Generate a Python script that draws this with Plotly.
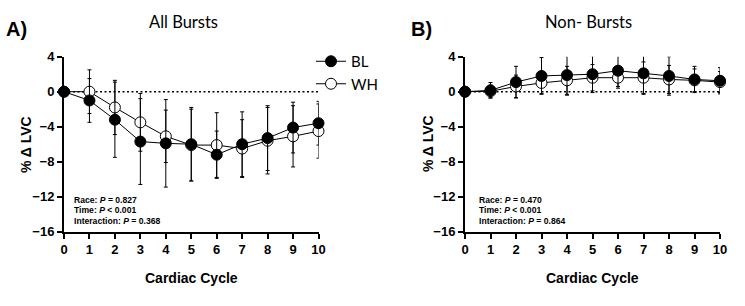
import plotly.graph_objects as go

cycles = [0, 1, 2, 3, 4, 5, 6, 7, 8, 9, 10]

# Panel A: All Bursts
a_bl = [0, -1.0, -3.2, -5.7, -5.9, -6.0, -7.2, -6.0, -5.3, -4.1, -3.6]
a_bl_err = [0, 2.5, 4.3, 4.9, 5.0, 4.2, 2.7, 3.7, 3.7, 2.9, 2.5]
a_wh = [0, 0.0, -1.8, -3.5, -5.1, -6.1, -6.1, -6.5, -5.6, -5.1, -4.5]
a_wh_err = [0, 2.5, 3.1, 3.3, 3.0, 4.1, 3.7, 3.3, 3.8, 3.5, 3.1]

# Panel B: Non- Bursts
b_bl = [0, 0.15, 1.1, 1.8, 1.9, 2.0, 2.4, 2.1, 1.8, 1.4, 1.25]
b_bl_err = [0, 0.9, 1.8, 2.1, 2.3, 2.1, 2.0, 2.4, 2.2, 1.5, 1.5]
b_wh = [0, 0.05, 0.6, 1.0, 1.3, 1.6, 1.6, 1.6, 1.4, 1.3, 1.1]
b_wh_err = [0, 0.7, 1.3, 1.2, 1.6, 1.5, 1.0, 1.8, 1.6, 1.3, 1.2]

y_ticks = [4, 0, -4, -8, -12, -16]
panel_titles = ["All Bursts", "Non- Bursts"]
panel_letters = ["A)", "B)"]
stats_a = ["Race: <i>P</i> = 0.827", "Time: <i>P</i> < 0.001", "Interaction: <i>P</i> = 0.368"]
stats_b = ["Race: <i>P</i> = 0.470", "Time: <i>P</i> < 0.001", "Interaction: <i>P</i> = 0.864"]

FONT = "Liberation Sans, Arial"
TFONT = "Lato, Carlito, Open Sans"

fig = go.Figure()

def add_panel(xa, ya, bl, bl_err, wh, wh_err, show):
    # dotted zero line
    fig.add_trace(go.Scatter(x=[cycles[0], cycles[-1]], y=[0, 0], mode="lines",
                             line=dict(color="black", width=1.5, dash="2px,2.5px"),
                             xaxis=xa, yaxis=ya, showlegend=False, hoverinfo="skip"))
    fig.add_trace(go.Scatter(x=cycles, y=wh, mode="lines+markers", name="WH",
                             line=dict(color="black", width=1),
                             marker=dict(symbol="circle", size=11, color="white",
                                         line=dict(color="black", width=1)),
                             error_y=dict(type="data", array=wh_err, color="black",
                                          thickness=1, width=2),
                             cliponaxis=False, xaxis=xa, yaxis=ya,
                             showlegend=show, legendrank=2))
    fig.add_trace(go.Scatter(x=cycles, y=bl, mode="lines+markers", name="BL",
                             line=dict(color="black", width=1),
                             marker=dict(symbol="circle", size=11, color="black",
                                         line=dict(color="black", width=1)),
                             error_y=dict(type="data", array=bl_err, color="black",
                                          thickness=1, width=2),
                             cliponaxis=False, xaxis=xa, yaxis=ya,
                             showlegend=show, legendrank=1))

add_panel("x", "y", a_bl, a_bl_err, a_wh, a_wh_err, True)
add_panel("x2", "y2", b_bl, b_bl_err, b_wh, b_wh_err, False)

W, H = 745, 306
ytop, ybot = 56.7, 231.7
ydom = [1 - ybot / H, 1 - ytop / H]

axis_common = dict(showline=True, linecolor="black", linewidth=2, ticks="outside",
                   ticklen=5, tickwidth=2, tickcolor="black", showgrid=False,
                   zeroline=False, automargin=False,
                   tickfont=dict(family=FONT, size=13, color="black", weight="bold"))

fig.update_layout(
    width=W, height=H, margin=dict(l=0, r=0, t=0, b=0, autoexpand=False),
    plot_bgcolor="white", paper_bgcolor="white",
    xaxis=dict(domain=[64 / W, 318.5 / W], range=[0, 10], tickvals=cycles, anchor="y", **axis_common),
    yaxis=dict(domain=ydom, range=[-16, 4], tickvals=y_ticks, anchor="x", **axis_common),
    xaxis2=dict(domain=[465 / W, 720 / W], range=[0, 10], tickvals=cycles, anchor="y2", **axis_common),
    yaxis2=dict(domain=ydom, range=[-16, 4], tickvals=y_ticks, anchor="x2", **axis_common),
    legend=dict(x=311 / W, y=1 - 45 / H, xanchor="left", yanchor="top",
                font=dict(family=TFONT, size=15, color="black"), itemwidth=30,
                bgcolor="rgba(0,0,0,0)", tracegroupgap=0),
    showlegend=True,
)

ann = []
# panel titles and letters
for cx, t in zip([183, 588], panel_titles):
    ann.append(dict(x=cx / W, y=1 - 22 / H, xref="paper", yref="paper", text=t, showarrow=False,
                    xanchor="center", yanchor="middle", font=dict(family=TFONT, size=16.5, color="black")))
for lx, t in zip([4, 409], panel_letters):
    ann.append(dict(x=lx / W, y=1 - 29 / H, xref="paper", yref="paper", text="<b>" + t + "</b>",
                    showarrow=False, xanchor="left", yanchor="middle",
                    font=dict(family=FONT, size=20, color="black")))
# axis titles
for cx in [191, 592]:
    ann.append(dict(x=cx / W, y=1 - 278 / H, xref="paper", yref="paper", text="<b>Cardiac Cycle</b>",
                    showarrow=False, xanchor="center", yanchor="middle",
                    font=dict(family=FONT, size=14, color="black")))
for cx in [26, 428]:
    ann.append(dict(x=cx / W, y=1 - 144 / H, xref="paper", yref="paper", text="<b>% Δ LVC</b>",
                    showarrow=False, xanchor="center", yanchor="middle", textangle=-90,
                    font=dict(family=FONT, size=14, color="black")))
# stats
for lx, lines in zip([72, 477], [stats_a, stats_b]):
    for i, s in enumerate(lines):
        ann.append(dict(x=lx / W, y=1 - (199.5 + 10.5 * i) / H, xref="paper", yref="paper",
                        text="<b>" + s + "</b>", showarrow=False, xanchor="left", yanchor="middle",
                        font=dict(family=FONT, size=8.6, color="black")))
fig.update_layout(annotations=ann)

fig.write_html("out.html")
